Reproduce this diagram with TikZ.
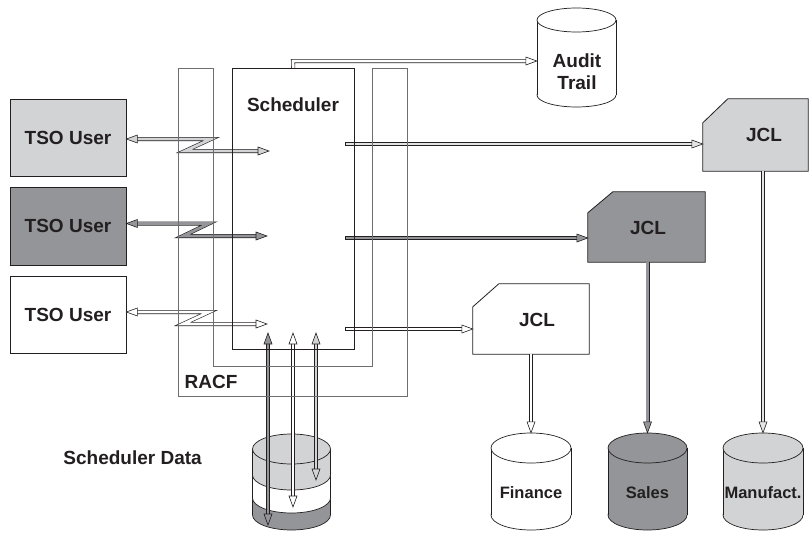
\documentclass[tikz,border=0pt]{standalone}
\usepackage{fontspec}
\setmainfont{Liberation Sans}
\usetikzlibrary{calc}
\definecolor{lg}{HTML}{D1D3D4}
\definecolor{vlg}{HTML}{E3E4E5}
\definecolor{dg}{HTML}{939598}
\definecolor{ink}{HTML}{231F20}
\definecolor{framec}{HTML}{6D6E71}
\tikzset{
 boxline/.style={draw=ink, line width=0.8pt},
 cylline/.style={draw=ink, line width=0.7pt},
 framel/.style={draw=framec, line width=0.9pt},
 txt/.style={font=\fontsize{19}{22}\selectfont\bfseries, inner sep=0pt, text=ink},
 cyltxt/.style={font=\fontsize{16.5}{19}\selectfont\bfseries, inner sep=0pt, text=ink},
 tsobox/.style={boxline, minimum width=116pt, minimum height=77pt, txt},
 ghost/.style={inner sep=0pt},
 hol/.style={draw=ink, line width=0.6pt, double=#1, double distance=2.8pt, line join=miter, miter limit=20},
 headline/.style={draw=ink, line width=0.6pt, line join=miter},
}
% arrow head: point, direction angle, fill
\newcommand\arrowhd[3]{\draw[headline, fill=#3, shift={(#1)}, rotate=#2] (0,0) -- (-11,4) -- (-11,-4) -- cycle;}
% closing line at a flat shaft start (horizontal shafts)
\newcommand\flatcapx[1]{\draw[headline] ($(#1)+(0,-2)$) -- ($(#1)+(0,2)$);}
% cylinder body part: cx, top centre y, bottom centre y, rx, ry, fill
\newcommand\cylpart[6]{%
 \draw[cylline, fill=#6] (#1,#3) ellipse[x radius=#4, y radius=#5];
 \fill[#6] (#1-#4,#2) rectangle (#1+#4,#3);
 \draw[cylline] (#1-#4,#2) -- (#1-#4,#3) (#1+#4,#2) -- (#1+#4,#3);}
\newcommand\cyltop[5]{\draw[cylline, fill=#5] (#1,#2) ellipse[x radius=#3, y radius=#4];}
% JCL card: node name, fill, cut x, cut y
\newcommand\jclshape[4]{\draw[boxline, fill=#2] ($(#1.north west)+(#3,0)$) -- (#1.north east) -- (#1.south east) -- (#1.south west) -- ($(#1.north west)+(0,#4)$) -- cycle;}
\begin{document}
\begin{tikzpicture}[x=1pt,y=-1pt]
\useasboundingbox (0,0) rectangle (811,533);
\fill[white] (0,0) rectangle (811,533);

% ---------- cylinders ----------
\cylpart{576.5}{20}{95}{39.5}{12}{white}
\cyltop{576.5}{20}{39.5}{12}{white}
\cylpart{531}{448}{515}{40}{15}{white}
\cyltop{531}{448}{40}{15}{white}
\cylpart{647.5}{448}{515}{39.5}{15}{dg}
\cyltop{647.5}{448}{39.5}{15}{dg}
\cylpart{763}{448}{515}{40}{15}{lg}
\cyltop{763}{448}{40}{15}{lg}
% scheduler data (three layers)
\cylpart{291.5}{449}{515}{39}{15}{dg}
\cylpart{291.5}{449}{498}{39}{15}{white}
\cylpart{291.5}{449}{475}{39}{15}{lg}
\cyltop{291.5}{449}{39}{15}{lg}

\node[ghost, minimum width=79pt, minimum height=99pt] (aud) at (576.5,57.5) {};
\node[ghost, minimum width=80pt, minimum height=97pt] (fin) at (531,481.5) {};
\node[ghost, minimum width=79pt, minimum height=97pt] (sal) at (647.5,481.5) {};
\node[ghost, minimum width=80pt, minimum height=97pt] (man) at (763,481.5) {};
\node[ghost, minimum width=78pt, minimum height=96pt] (sdat) at (291.5,482) {};

\node[txt, align=center] (audt) at (577,72) {Audit\\Trail};
\node[cyltxt] (fint) at (531,493) {Finance};
\node[cyltxt] (salt) at (647.5,493) {Sales};
\node[cyltxt] (mant) at (763,493) {Manufact.};

% ---------- JCL cards ----------
\node[ghost, minimum width=105pt, minimum height=72pt] (jcl1) at (755.5,135) {};
\node[ghost, minimum width=117pt, minimum height=70pt] (jcl2) at (646.5,227) {};
\node[ghost, minimum width=116pt, minimum height=70pt] (jcl3) at (531,319) {};
\jclshape{jcl1}{lg}{25}{24}
\jclshape{jcl2}{dg}{25}{21}
\jclshape{jcl3}{white}{26}{23}
\node[txt] (jcl1t) at (764,135) {JCL};
\node[txt] (jcl2t) at (648,228) {JCL};
\node[txt] (jcl3t) at (537,320) {JCL};

% ---------- TSO users ----------
\node[tsobox, fill=lg] (tso1) at (68,137.5) {TSO User};
\node[tsobox, fill=dg, minimum height=78pt] (tso2) at (68,226) {TSO User};
\node[tsobox, fill=white] (tso3) at (68,314.5) {TSO User};

% scheduler (outline drawn later)
\node[ghost, minimum width=122pt, minimum height=281pt, anchor=north west] (sch) at (232,68) {};

% ---------- TSO arrows ----------
\coordinate (k1a) at (211,139); \coordinate (k1b) at (185,151); \coordinate (k1e) at (269,151);
\coordinate (k1s) at (tso1.east |- k1a);
\draw[hol=lg, shorten <=9pt, shorten >=9pt] (k1s) -- (k1a) -- (k1b) -- (k1e);
\arrowhd{k1s}{180}{lg} \arrowhd{k1e}{0}{lg}

\coordinate (k2a) at (209,223.5); \coordinate (k2b) at (183,236); \coordinate (k2e) at (267,236);
\coordinate (k2s) at (tso2.east |- k2a);
\draw[hol=dg, shorten <=9pt, shorten >=9pt] (k2s) -- (k2a) -- (k2b) -- (k2e);
\arrowhd{k2s}{180}{dg} \arrowhd{k2e}{0}{dg}

\coordinate (k3a) at (209,312); \coordinate (k3b) at (183,324); \coordinate (k3e) at (267,324);
\coordinate (k3s) at (tso3.east |- k3a);
\draw[hol=white, shorten <=9pt, shorten >=9pt] (k3s) -- (k3a) -- (k3b) -- (k3e);
\arrowhd{k3s}{180}{white} \arrowhd{k3e}{0}{white}

% ---------- scheduler to JCL ----------
\coordinate (r1s) at (345,144); \coordinate (r1e) at (jcl1.west |- r1s);
\draw[hol=vlg, shorten >=9pt] (r1s) -- (r1e); \arrowhd{r1e}{0}{vlg} \flatcapx{r1s}
\coordinate (r2s) at (345,238); \coordinate (r2e) at (jcl2.west |- r2s);
\draw[hol=dg, shorten >=9pt] (r2s) -- (r2e); \arrowhd{r2e}{0}{dg} \flatcapx{r2s}
\coordinate (r3s) at (345,329); \coordinate (r3e) at (jcl3.west |- r3s);
\draw[hol=white, shorten >=9pt] (r3s) -- (r3e); \arrowhd{r3e}{0}{white} \flatcapx{r3s}

% ---------- JCL to databases ----------
\draw[hol=vlg, shorten >=9pt] (jcl1.south -| man.north) -- (man.north); \arrowhd{man.north}{-90}{vlg}
\draw[hol=dg, shorten >=9pt] (jcl2.south -| sal.north) -- (sal.north); \arrowhd{sal.north}{-90}{dg}
\draw[hol=white, shorten >=9pt] (jcl3.south -| fin.north) -- (fin.north); \arrowhd{fin.north}{-90}{white}

% ---------- audit trail ----------
\coordinate (au1) at (293,61); \coordinate (aue) at (aud.west |- au1);
\draw[hol=white, shorten >=9pt] (sch.north) -- (au1) -- (aue); \arrowhd{aue}{0}{white}

% ---------- scheduler data ----------
\coordinate (d1t) at (268,333); \coordinate (d1b) at (268,525);
\draw[hol=dg, shorten <=9pt, shorten >=9pt] (d1t) -- (d1b); \arrowhd{d1t}{90}{dg} \arrowhd{d1b}{-90}{dg}
\coordinate (d2t) at (293,333); \coordinate (d2b) at (293,507);
\draw[hol=white, shorten <=9pt, shorten >=9pt] (d2t) -- (d2b); \arrowhd{d2t}{90}{white} \arrowhd{d2b}{-90}{white}
\coordinate (d3t) at (316,333); \coordinate (d3b) at (316,480);
\draw[hol=lg, shorten <=9pt, shorten >=9pt] (d3t) -- (d3b); \arrowhd{d3t}{90}{lg} \arrowhd{d3b}{-90}{lg}

% ---------- RACF frame and scheduler box ----------
\draw[framel] (178,68) -- (178,396) -- (407,396) -- (407,68) -- (372,68) -- (372,366) -- (213,366) -- (213,68) -- cycle;
\draw[boxline] (sch.north west) rectangle (sch.south east);

\node[txt] (schl) at (293,105) {Scheduler};
\node[txt] (racfl) at (211,382) {RACF};
\node[txt, anchor=east] (sdl) at (202,458) {Scheduler Data};
\end{tikzpicture}
\end{document}
